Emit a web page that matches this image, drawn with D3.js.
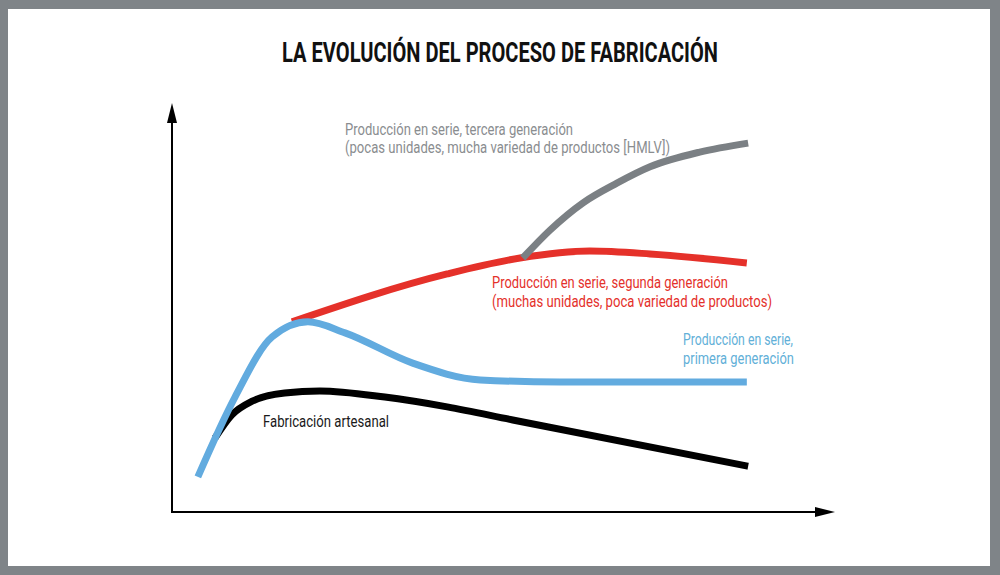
<!DOCTYPE html>
<html>
<head>
<meta charset="utf-8">
<script src="https://cdn.jsdelivr.net/npm/d3@7"></script>
<style>
  html, body { margin: 0; padding: 0; background: #7f8488; }
  svg { display: block; }
</style>
</head>
<body>
<svg id="chart" width="1000" height="575"></svg>
<script>
// ---------- DATA (x: 0-100 time units, y: 0-100 value units) ----------
const title = "LA EVOLUCIÓN DEL PROCESO DE FABRICACIÓN";

const artesanalX = [6.5, 9.0, 12.1, 17.0, 22.3, 32.1, 41.5, 51.4, 86.9];
const artesanalY = [18.1, 23.7, 27.1, 29.1, 29.6, 28.1, 25.7, 22.5, 11.2];

const primeraX = [3.9, 9.5, 15.1, 20.5, 26.1, 36.3, 46.5, 58.5, 86.7];
const primeraY = [8.6, 28.1, 42.8, 46.5, 43.8, 36.4, 32.3, 31.8, 31.8];

const segundaX = [18.1, 41.5, 52.5, 63.0, 72.1, 86.7];
const segundaY = [46.5, 58.2, 62.1, 63.8, 63.1, 60.9];

const terceraX = [52.9, 57.0, 62.0, 67.1, 72.1, 79.6, 86.9];
const terceraY = [62.1, 68.9, 75.6, 80.4, 84.4, 88.0, 90.2];

const labelArtesanal = ["Fabricación artesanal"];
const labelPrimera = ["Producción en serie,", "primera generación"];
const labelSegunda = ["Producción en serie, segunda generación", "(muchas unidades, poca variedad de productos)"];
const labelTercera = ["Producción en serie, tercera generación", "(pocas unidades, mucha variedad de productos [HMLV])"];

// ---------- DRAW ----------
const svg = d3.select("#chart");

// white panel inside gray frame
svg.append("rect").attr("x", 8).attr("y", 9).attr("width", 982).attr("height", 557).attr("fill", "#ffffff");

const x = d3.scaleLinear().domain([0, 100]).range([172, 835]);
const y = d3.scaleLinear().domain([0, 100]).range([512, 103]);

const FONT = "'Liberation Sans Narrow', 'Roboto', 'Liberation Sans', sans-serif";

// title
svg.append("text")
  .attr("x", 282).attr("y", 62)
  .attr("font-family", FONT)
  .attr("font-weight", "bold")
  .attr("font-size", 28)
  .attr("fill", "#111")
  .attr("textLength", 436)
  .attr("lengthAdjust", "spacingAndGlyphs")
  .text(title);

// axes
const axisG = svg.append("g");
axisG.append("line")
  .attr("x1", x(0)).attr("x2", x(0))
  .attr("y1", y(0) + 1).attr("y2", y(100) + 15)
  .attr("stroke", "#000").attr("stroke-width", 2);
axisG.append("line")
  .attr("x1", x(0) - 1).attr("x2", x(100) - 15)
  .attr("y1", y(0)).attr("y2", y(0))
  .attr("stroke", "#000").attr("stroke-width", 2);
// arrowheads
axisG.append("path")
  .attr("d", `M${x(0)},${y(100)} L${x(0) - 5},${y(100) + 20} L${x(0) + 5},${y(100) + 20} Z`)
  .attr("fill", "#000");
axisG.append("path")
  .attr("d", `M${x(100)},${y(0)} L${x(100) - 20},${y(0) - 5} L${x(100) - 20},${y(0) + 5} Z`)
  .attr("fill", "#000");

const line = d3.line()
  .x(d => x(d[0]))
  .y(d => y(d[1]))
  .curve(d3.curveMonotoneX);

const series = [
  { xs: artesanalX, ys: artesanalY, color: "#000000" },
  { xs: segundaX, ys: segundaY, color: "#e5312a" },
  { xs: terceraX, ys: terceraY, color: "#7b8084" },
  { xs: primeraX, ys: primeraY, color: "#62abdf" }
];

series.forEach(s => {
  const pts = s.xs.map((v, i) => [v, s.ys[i]]);
  svg.append("path")
    .datum(pts)
    .attr("d", line)
    .attr("fill", "none")
    .attr("stroke", s.color)
    .attr("stroke-width", 7)
    .attr("stroke-linecap", "butt")
    .attr("stroke-linejoin", "round");
});

// labels
function label(lines, x0, baselines, widths, color) {
  lines.forEach((t, i) => {
    svg.append("text")
      .attr("x", x0).attr("y", baselines[i])
      .attr("font-family", FONT)
      .attr("font-size", 17)
      .attr("fill", color)
      .attr("textLength", widths[i])
      .attr("lengthAdjust", "spacingAndGlyphs")
      .text(t);
  });
}

label(labelTercera, 345, [135, 153], [228, 325], "#8a8d90");
label(labelSegunda, 492, [288, 307], [236, 280], "#e4312b");
label(labelPrimera, 683, [345, 364], [110, 111], "#62b0d8");
label(labelArtesanal, 263, [427], [126], "#1a1a1a");
</script>
</body>
</html>
